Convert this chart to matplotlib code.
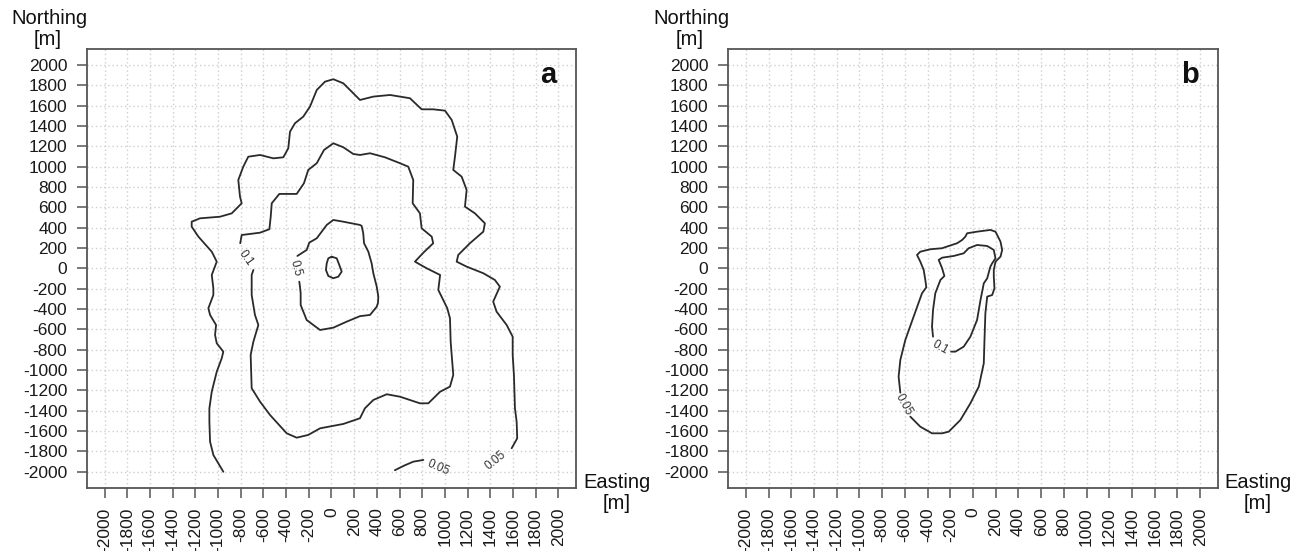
import matplotlib
matplotlib.use('Agg')
import matplotlib.pyplot as plt

plt.rcParams['font.family'] = ['Liberation Sans', 'DejaVu Sans']

# ---------------- axes / ticks ----------------
TICKS = list(range(-2000, 2001, 200))
TICK_LABELS = [str(t) for t in TICKS]
LIMITS = (-2160, 2160)

# ---------------- panel a contours (Easting, Northing in m) ----------------
# 0.05 level, main (open) line: bottom-left, round the top, down the right side
A_005_MAIN_E = [-954, -1042, -1071, -1077, -1077, -1056, -1012, -968, -954, -1012, -1027, -1018,
                -1071, -1086, -1042, -1042, -1056, -1012, -1056, -1174, -1233, -1233, -1160, -983,
                -880, -792, -807, -822, -778, -734, -630, -513, -425, -381, -366, -322, -249, -190,
                -130, -57, 16, 104, 192, 251, 369, 516, 692, 795, 897, 1001, 1060, 1109, 1089, 1074,
                1148, 1192, 1177, 1265, 1353, 1339, 1221, 1118, 1104, 1192, 1339, 1441, 1485, 1426,
                1456, 1545, 1598, 1598, 1609, 1618, 1633, 1638, 1589]
A_005_MAIN_N = [-2000, -1835, -1704, -1508, -1376, -1212, -1016, -884, -819, -737, -655, -557,
                -458, -392, -262, -196, -65, 66, 164, 312, 410, 459, 492, 508,
                541, 640, 705, 869, 1000, 1098, 1115, 1082, 1092, 1181, 1344, 1427, 1492, 1590,
                1754, 1836, 1860, 1820, 1722, 1656, 1689, 1705, 1673, 1564, 1564, 1551, 1460, 1295, 1099, 968,
                902, 771, 607, 541, 443, 361, 247, 132, 66, 17, -48, -114, -180, -327,
                -426, -557, -672, -852, -1048, -1376, -1508, -1671, -1769]
# 0.05 level, short segment at the bottom
A_005_BOTTOM_E = [559, 640, 721, 810]
A_005_BOTTOM_N = [-1985, -1940, -1901, -1884]
# 0.1 level (broken by its label)
A_01_E = [-805, -792, -630, -548, -536, -527, -460, -307, -243, -205, -130, -66, 16, 104, 192,
          251, 340, 472, 604, 677, 721, 716, 780, 795, 884, 897, 810, 736, 839, 958,
          942, 1021, 1045, 1051, 1074, 1045, 958, 854, 780, 604, 487, 369, 295, 251,
          104, -101, -205, -307, -395, -542, -630, -704, -713, -689, -645, -675, -704, -704, -689]
A_01_N = [247, 328, 351, 385, 509, 640, 732, 732, 837, 968, 1034, 1164, 1230, 1191, 1125,
          1115, 1132, 1092, 1034, 1000, 869, 640, 541, 394, 312, 247, 154, 66, 1, -65,
          -212, -392, -491, -721, -1048, -1163, -1213, -1327, -1327, -1262, -1238, -1294, -1376, -1474,
          -1530, -1573, -1638, -1665, -1622, -1442, -1311, -1179, -852, -721, -557, -458, -262, -65, -16]
# 0.5 level (broken by its label)
A_05_E = [-301, -219, -196, -130, -42, 16, 104, 251, 266, 280, 287, 325, 354, 369, 399, 413,
          410, 399, 340, 251, 134, 16, -101, -219, -272, -272, -278, -284]
A_05_N = [122, 181, 253, 296, 427, 476, 459, 427, 417, 345, 247, 164, 50, -48, -180, -278,
          -340, -377, -458, -470, -524, -583, -606, -508, -360, -245, -180, -131]
# innermost closed loop
A_INNER_E = [2, 46, 69, 90, 60, 16, -28, -49, -42, -28, 2]
A_INNER_N = [115, 99, 33, -32, -82, -97, -75, -16, 50, 99, 115]

# ---------------- panel b contours ----------------
B_005_E = [-640, -655, -640, -596, -523, -449, -411, -420, -434, -464, -493, -464, -376, -272,
           -214, -140, -96, -67, -52, 36, 153, 198, 242, 257, 242, 198, 183, 183, 189, 169,
           125, 109, 101, 95, 51, -23, -111, -214, -272, -361, -464, -552]
B_005_N = [-1222, -1065, -901, -704, -475, -245, -186, -114, -16, 66, 132, 164, 188, 198,
           220, 247, 279, 312, 345, 361, 378, 361, 263, 181, 115, 66, -16, -82, -196, -262,
           -278, -442, -704, -933, -1163, -1327, -1491, -1606, -1622, -1622, -1557, -1458]
B_01_E = [-352, -361, -352, -332, -287, -252, -272, -302, -272, -170, -82, -38, 36, 125, 183,
          198, 169, 153, 125, 95, 66, 36, -23, -82, -155, -193]
B_01_N = [-672, -573, -409, -245, -114, -75, 1, 83, 105, 122, 148, 198, 230, 220, 181,
          99, 50, 17, -98, -147, -311, -507, -672, -770, -819, -819]

# ---------------- contour labels ----------------
A_LABEL_TEXT = ['0.1', '0.5', '0.05', '0.05']
A_LABEL_E = [-760, -313, 942, 1451]
A_LABEL_N = [105, 1, -1960, -1884]
A_LABEL_ROT = [-55, -75, -23, 39]
B_LABEL_TEXT = ['0.05', '0.1']
B_LABEL_E = [-612, -287]
B_LABEL_N = [-1343, -775]
B_LABEL_ROT = [-61, -30]

PANEL_TAGS = ['a', 'b']

LINE_COLOR = '#2a2a2a'
SPINE_COLOR = '#555555'
TEXT_COLOR = '#1a1a1a'

fig = plt.figure(figsize=(13.1, 5.51), dpi=100)
axa = fig.add_axes([0.0661, 0.1143, 0.3739, 0.7973])
axb = fig.add_axes([0.5555, 0.1143, 0.3745, 0.7973])


def style(ax, tag):
    ax.set_xlim(*LIMITS)
    ax.set_ylim(*LIMITS)
    ax.set_xticks(TICKS)
    ax.set_yticks(TICKS)
    ax.set_xticklabels(TICK_LABELS, rotation=90)
    ax.set_yticklabels(TICK_LABELS)
    ax.tick_params(axis='both', direction='out', length=7, width=1.1, color=SPINE_COLOR,
                   labelsize=12.5, labelcolor=TEXT_COLOR, pad=7)
    for s in ax.spines.values():
        s.set_color(SPINE_COLOR)
        s.set_linewidth(1.3)
    ax.grid(True, color='#cfcfcf', linestyle=(0, (1, 2)), linewidth=1.0)
    ax.set_axisbelow(True)
    ax.text(1910, 1823, tag, ha='center', va='baseline', fontsize=21, fontweight='bold', color='#111111')


style(axa, PANEL_TAGS[0])
style(axb, PANEL_TAGS[1])

kw = dict(color=LINE_COLOR, lw=1.3, solid_joinstyle='round', solid_capstyle='round')
axa.plot(A_005_MAIN_E, A_005_MAIN_N, **kw)
axa.plot(A_005_BOTTOM_E, A_005_BOTTOM_N, **kw)
axa.plot(A_01_E, A_01_N, **kw)
axa.plot(A_05_E, A_05_N, **kw)
axa.plot(A_INNER_E, A_INNER_N, **kw)
for t, e, n, r in zip(A_LABEL_TEXT, A_LABEL_E, A_LABEL_N, A_LABEL_ROT):
    axa.text(e, n, t, rotation=r, rotation_mode='anchor', ha='center', va='center',
             fontsize=8.5, color='#333333')

axb.plot(B_005_E, B_005_N, **kw)
axb.plot(B_01_E, B_01_N, **kw)
for t, e, n, r in zip(B_LABEL_TEXT, B_LABEL_E, B_LABEL_N, B_LABEL_ROT):
    axb.text(e, n, t, rotation=r, rotation_mode='anchor', ha='center', va='center',
             fontsize=8.5, color='#333333')

# axis titles
for xc_n, xc_e in [(49.5, 617), (691.5, 1258)]:
    fig.text(xc_n / 1310, 1 - 24 / 551, 'Northing', ha='center', va='baseline', fontsize=14.5, color='#111111')
    fig.text((xc_n - 1.5) / 1310, 1 - 45 / 551, '[m]', ha='center', va='baseline', fontsize=14.5, color='#111111')
    fig.text(xc_e / 1310, 1 - 488 / 551, 'Easting', ha='center', va='baseline', fontsize=14.5, color='#111111')
    fig.text(xc_e / 1310, 1 - 509 / 551, '[m]', ha='center', va='baseline', fontsize=14.5, color='#111111')

fig.savefig('out.png', dpi=100)
